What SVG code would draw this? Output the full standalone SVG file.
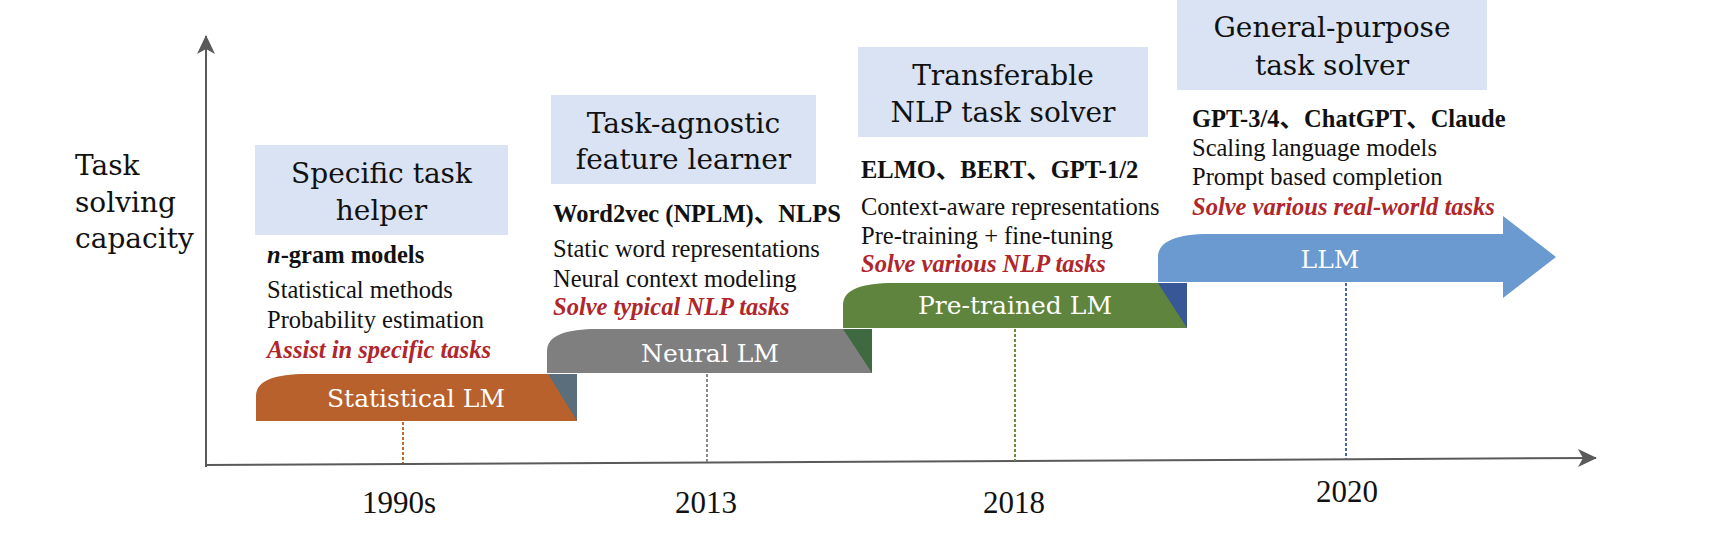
<svg xmlns="http://www.w3.org/2000/svg" width="1716" height="554" viewBox="0 0 1716 554">
<style>
.box{fill:#dae3f3}
.head{font-family:"DejaVu Serif","Liberation Serif",serif;font-size:28px;fill:#111;text-anchor:middle}
.bold{font-family:"Liberation Serif","Noto Sans CJK SC",serif;font-size:24.5px;font-weight:bold;fill:#111}
.desc{font-family:"Liberation Serif",serif;font-size:24.5px;fill:#111}
.red{font-family:"Liberation Serif",serif;font-size:24.5px;font-weight:bold;font-style:italic;fill:#b0262b}
.bar{font-family:"DejaVu Serif","Liberation Serif",serif;font-size:25px;fill:#fff;text-anchor:middle}
.year{font-family:"Liberation Serif",serif;font-size:31px;fill:#111;text-anchor:middle}
.axis{stroke:#5a5a5a;stroke-width:2;fill:none}
.dot{stroke-width:2;stroke-dasharray:3 2;fill:none}
</style>
<defs>
<marker id="ah" viewBox="0 0 20 20" refX="18" refY="10" markerWidth="20" markerHeight="20" markerUnits="userSpaceOnUse" orient="auto">
<path d="M0,1 L19,10 L0,19 L5,10 Z" fill="#5a5a5a"/>
</marker>
</defs>
<g id="axes">
<line class="axis" x1="206" y1="467" x2="206" y2="36" marker-end="url(#ah)"/>
<line class="axis" x1="205" y1="465" x2="1596" y2="458" marker-end="url(#ah)"/>
</g>
<g id="axis-label">
<text class="head" style="text-anchor:start" x="75" y="175">Task</text>
<text class="head" style="text-anchor:start" x="75" y="212">solving</text>
<text class="head" style="text-anchor:start" x="75" y="248">capacity</text>
</g>
<g id="connectors">
<line class="dot" stroke="#c0692f" x1="403" y1="422" x2="403" y2="463"/>
<line class="dot" stroke="#8a8a8a" x1="707" y1="374" x2="707" y2="463"/>
<line class="dot" stroke="#6a8c3e" x1="1015" y1="329" x2="1015" y2="461"/>
<line class="dot" stroke="#4a68a8" x1="1346" y1="283" x2="1346" y2="459"/>
</g>
<g id="years">
<text class="year" x="399" y="513">1990s</text>
<text class="year" x="706" y="513">2013</text>
<text class="year" x="1014" y="513">2018</text>
<text class="year" x="1347" y="502">2020</text>
</g>
<g id="statistical-lm">
<path d="M256,421 V396 C256,380 276,374 306,374 H577 V421 Z" fill="#b8612c"/>
<path d="M548,374 L577,374 L577,421 Z" fill="#5b6e7b"/>
<text class="bar" x="416" y="407">Statistical LM</text>
</g>
<g id="neural-lm">
<path d="M547,373 V351 C547,335 567,329 597,329 H872 V373 Z" fill="#7f7f7f"/>
<path d="M843,329 L872,329 L872,373 Z" fill="#3f6a41"/>
<text class="bar" x="710" y="362">Neural LM</text>
</g>
<g id="pretrained-lm">
<path d="M843,328 V305 C843,289 863,283 893,283 H1187 V328 Z" fill="#5f843e"/>
<path d="M1158,283 L1187,283 L1187,328 Z" fill="#385797"/>
<text class="bar" x="1015" y="314">Pre-trained LM</text>
</g>
<g id="llm">
<path d="M1158,282 V257 C1158,241 1178,234 1208,234 H1503 V216 L1556,257 L1503,298 V282 Z" fill="#6a9acf"/>
<text class="bar" x="1330" y="268">LLM</text>
</g>
<g id="specific-task-helper">
<rect class="box" x="255" y="145" width="253" height="90"/>
<text class="head" x="381.5" y="183">Specific task</text>
<text class="head" x="381.5" y="220">helper</text>
<text class="bold" x="267" y="263"><tspan font-style="italic">n</tspan>-gram models</text>
<text class="desc" x="267" y="298">Statistical methods</text>
<text class="desc" x="267" y="328">Probability estimation</text>
<text class="red" x="267" y="358">Assist in specific tasks</text>
</g>
<g id="task-agnostic-feature-learner">
<rect class="box" x="551" y="95" width="265" height="89"/>
<text class="head" x="683.5" y="133">Task-agnostic</text>
<text class="head" x="683.5" y="169">feature learner</text>
<text class="bold" x="553" y="222">Word2vec (NPLM)、NLPS</text>
<text class="desc" x="553" y="257">Static word representations</text>
<text class="desc" x="553" y="287">Neural context modeling</text>
<text class="red" x="553" y="315">Solve typical NLP tasks</text>
</g>
<g id="transferable-nlp-task-solver">
<rect class="box" x="858" y="47" width="290" height="90"/>
<text class="head" x="1003" y="85">Transferable</text>
<text class="head" x="1003" y="122">NLP task solver</text>
<text class="bold" x="861" y="178">ELMO、BERT、GPT-1/2</text>
<text class="desc" x="861" y="215">Context-aware representations</text>
<text class="desc" x="861" y="244">Pre-training + fine-tuning</text>
<text class="red" x="861" y="272">Solve various NLP tasks</text>
</g>
<g id="general-purpose-task-solver">
<rect class="box" x="1177" y="0" width="310" height="90"/>
<text class="head" x="1332" y="37">General-purpose</text>
<text class="head" x="1332" y="75">task solver</text>
<text class="bold" x="1192" y="127">GPT-3/4、ChatGPT、Claude</text>
<text class="desc" x="1192" y="156">Scaling language models</text>
<text class="desc" x="1192" y="185">Prompt based completion</text>
<text class="red" x="1192" y="215">Solve various real-world tasks</text>
</g>
</svg>
